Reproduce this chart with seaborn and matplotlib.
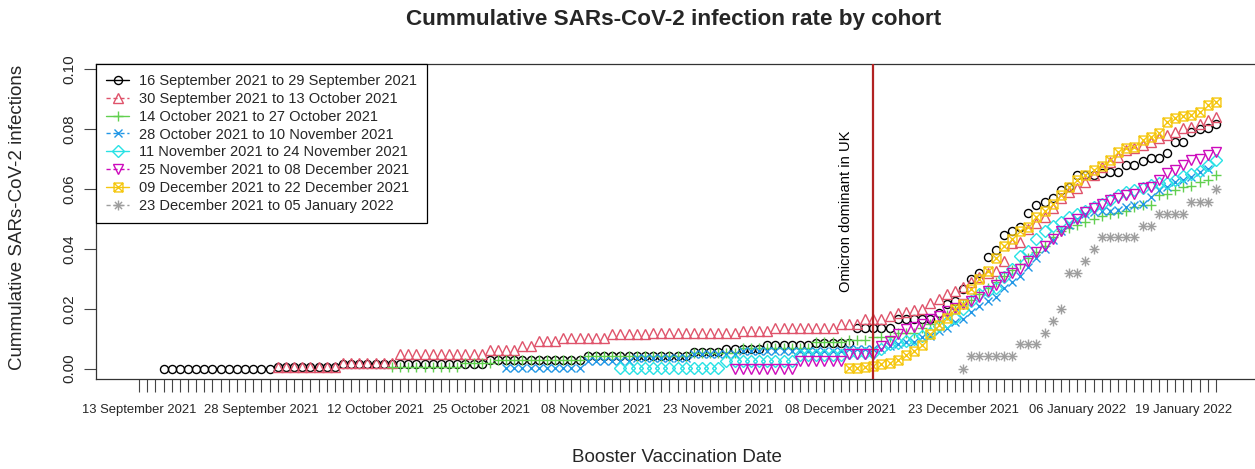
import matplotlib
matplotlib.use("Agg")
import numpy as np
import pandas as pd
import matplotlib.pyplot as plt
import matplotlib.dates as mdates
from matplotlib.path import Path
from matplotlib.lines import Line2D
import seaborn as sns

sns.set_theme(style="white")
plt.rcParams['font.family'] = ['Liberation Sans', 'DejaVu Sans']

# ---------------- data ----------------
cohort_labels = [
    "16 September 2021 to 29 September 2021",
    "30 September 2021 to 13 October 2021",
    "14 October 2021 to 27 October 2021",
    "28 October 2021 to 10 November 2021",
    "11 November 2021 to 24 November 2021",
    "25 November 2021 to 08 December 2021",
    "09 December 2021 to 22 December 2021",
    "23 December 2021 to 05 January 2022",
]
start_dates = ["2021-09-16", "2021-09-30", "2021-10-14", "2021-10-28",
               "2021-11-11", "2021-11-25", "2021-12-09", "2021-12-23"]

rate_c1 = [
    0.0, 0.0, 0.0, 0.0, 0.0, 0.0, 0.0, 0.0, 0.0, 0.0, 0.0, 0.0, 0.0, 0.0,
    0.0005, 0.0005, 0.0005, 0.0005, 0.0005, 0.0005, 0.0005, 0.0005,
    0.0015, 0.0015, 0.0015, 0.0015, 0.0015, 0.0015, 0.0015, 0.0015, 0.0015,
    0.0015, 0.0015, 0.0015, 0.0015, 0.0015, 0.0015, 0.0015, 0.0015, 0.0015,
    0.003, 0.003, 0.003, 0.003, 0.003, 0.003, 0.003, 0.003, 0.003, 0.003, 0.003, 0.003,
    0.0042, 0.0042, 0.0042, 0.0042, 0.0042, 0.0042, 0.0042, 0.0042, 0.0042, 0.0042,
    0.0042, 0.0042, 0.0042,
    0.0055, 0.0055, 0.0055, 0.0055,
    0.0065, 0.0065, 0.0065, 0.0065, 0.0065,
    0.0077, 0.0077, 0.0077, 0.0077, 0.0077, 0.0077,
    0.0085, 0.0085, 0.0085, 0.0085, 0.0085,
    0.0135, 0.0135, 0.0135, 0.0135, 0.0135,
    0.0165, 0.0165, 0.0165, 0.0165, 0.0165,
    0.0187, 0.0215, 0.0226, 0.0266, 0.030, 0.032, 0.0374, 0.0397, 0.0445, 0.0461,
    0.0473, 0.052, 0.0545, 0.0556, 0.0571, 0.0596, 0.0607, 0.0646, 0.0646, 0.0646,
    0.0652, 0.0657, 0.0657, 0.068, 0.068, 0.0693, 0.0705, 0.0705, 0.0719,
    0.0756, 0.0756, 0.0791, 0.080, 0.0803, 0.0817,
]
rate_c2 = [
    0.0005, 0.0005, 0.0005, 0.0005, 0.0005, 0.0005, 0.0005, 0.0005,
    0.002, 0.002, 0.002, 0.002, 0.002, 0.002, 0.002,
    0.005, 0.005, 0.005, 0.005, 0.005, 0.005, 0.005, 0.005, 0.005, 0.005, 0.005,
    0.0062, 0.0062, 0.0062, 0.0062,
    0.0075, 0.0075,
    0.0092, 0.0092, 0.0092,
    0.0103, 0.0103, 0.0103, 0.0103, 0.0103, 0.0103,
    0.0115, 0.0115, 0.0115, 0.0115, 0.0115,
    0.012, 0.012, 0.012, 0.012, 0.012, 0.012, 0.012, 0.012, 0.012, 0.012, 0.012,
    0.0126, 0.0126, 0.0126, 0.0126,
    0.0137, 0.0137, 0.0137, 0.0137, 0.0137, 0.0137, 0.0137, 0.0137,
    0.015, 0.015, 0.015,
    0.0165, 0.0165, 0.0165,
    0.0175, 0.0185, 0.019, 0.0195, 0.020, 0.022, 0.0232, 0.025, 0.026, 0.0271,
    0.029, 0.0305, 0.0321, 0.0327, 0.036, 0.042, 0.0422, 0.0468, 0.0485, 0.0506,
    0.0535, 0.0569, 0.059, 0.0605, 0.0624, 0.0646, 0.0674, 0.069, 0.0707,
    0.073, 0.0736, 0.0747, 0.0758, 0.0769, 0.078, 0.0791, 0.0803, 0.0808, 0.0819,
    0.083, 0.0842,
]
rate_c3 = [
    0.0005, 0.0005, 0.0005, 0.0005, 0.0005, 0.0005, 0.0005, 0.0005, 0.0005,
    0.002, 0.002, 0.002, 0.002,
    0.0028, 0.0028, 0.0028, 0.0028, 0.0028, 0.0028, 0.0028, 0.0028, 0.0028, 0.0028, 0.0028,
    0.0042, 0.0042, 0.0042, 0.0042, 0.0042, 0.0042, 0.0042, 0.0042, 0.0042, 0.0042,
    0.0042, 0.0042, 0.0042,
    0.0053, 0.0053, 0.0053, 0.0053, 0.0053, 0.0053,
    0.007, 0.007, 0.007, 0.007, 0.007, 0.007, 0.007, 0.007, 0.007,
    0.0088, 0.0088, 0.0088, 0.0088,
    0.0095, 0.0095, 0.0095,
    0.0105, 0.0105, 0.0105,
    0.012, 0.012, 0.012,
    0.0135, 0.015, 0.016, 0.018, 0.020, 0.0215, 0.023, 0.025, 0.027, 0.029,
    0.031, 0.033, 0.035, 0.037, 0.039, 0.041, 0.044, 0.046, 0.047, 0.048,
    0.049, 0.050, 0.051, 0.0515, 0.052, 0.0528, 0.054, 0.0545, 0.0545,
    0.058, 0.0585, 0.0596, 0.0607, 0.061, 0.0624, 0.0629, 0.0646,
]
rate_c4 = [
    0.0003, 0.0003, 0.0003, 0.0003, 0.0003, 0.0003, 0.0003, 0.0003, 0.0003, 0.0003,
    0.0025, 0.0025, 0.0025, 0.0025, 0.0025, 0.0025,
    0.0035, 0.0035, 0.0035, 0.0035, 0.0035, 0.0035, 0.0035,
    0.005, 0.005, 0.005, 0.005, 0.005, 0.005,
    0.006, 0.006, 0.006, 0.006, 0.006, 0.006, 0.006, 0.006, 0.006, 0.006, 0.006,
    0.006, 0.006,
    0.0065, 0.0065, 0.0065, 0.0065, 0.0065,
    0.0075, 0.0082, 0.0088, 0.009, 0.0105, 0.011, 0.0125, 0.0137, 0.0155, 0.0166,
    0.019, 0.021, 0.0225, 0.0238, 0.027, 0.029, 0.031, 0.034, 0.037, 0.040,
    0.043, 0.046, 0.048, 0.050, 0.0515, 0.0523, 0.0525, 0.0528, 0.053,
    0.054, 0.0545, 0.055, 0.0573, 0.0596, 0.0607, 0.0624, 0.0629, 0.064,
    0.0657, 0.0668,
]
rate_c5 = [
    0.0003, 0.0003, 0.0003, 0.0003, 0.0003, 0.0003, 0.0003, 0.0003, 0.0003, 0.0003,
    0.0003, 0.0003, 0.0003,
    0.0025, 0.0025, 0.0025, 0.0025, 0.0025, 0.0025, 0.0025, 0.0025, 0.0025,
    0.0045, 0.0045, 0.0045, 0.0045, 0.0045, 0.0045,
    0.0053, 0.0053, 0.0053, 0.0053,
    0.0065, 0.0081, 0.0085, 0.0092, 0.010, 0.011, 0.012, 0.0143, 0.0155, 0.017,
    0.020, 0.0226, 0.025, 0.026, 0.027, 0.0305, 0.0333, 0.0377, 0.0394, 0.0434,
    0.046, 0.0478, 0.049, 0.0505, 0.0518, 0.0528, 0.054, 0.055, 0.0565, 0.058,
    0.059, 0.0596, 0.0602, 0.0612, 0.0619, 0.062, 0.063, 0.0645, 0.065,
    0.066, 0.068, 0.0696,
]
rate_c6 = [
    0.0, 0.0, 0.0, 0.0, 0.0, 0.0, 0.0, 0.0,
    0.0025, 0.0025, 0.0025, 0.0025, 0.0025, 0.0025,
    0.005, 0.005, 0.005, 0.005,
    0.0075, 0.0092, 0.0115, 0.0131, 0.014, 0.0148, 0.0165, 0.0176, 0.0193, 0.0204,
    0.0216, 0.0226, 0.024, 0.026, 0.028, 0.0305, 0.032, 0.0333, 0.036, 0.0389,
    0.041, 0.0434, 0.046, 0.0485, 0.050, 0.0523, 0.0535, 0.055, 0.0562, 0.057,
    0.0579, 0.0585, 0.0602, 0.0607, 0.0629, 0.0652, 0.0663, 0.068, 0.0696,
    0.0702, 0.0713, 0.0724,
]
rate_c7 = [
    0.0003, 0.0003, 0.0005, 0.001, 0.0015, 0.002, 0.003, 0.0045, 0.006, 0.008,
    0.0115, 0.0145, 0.017, 0.020, 0.0216, 0.0266, 0.030, 0.0327, 0.037, 0.041,
    0.0434, 0.046, 0.0473, 0.0506, 0.0528, 0.055, 0.058, 0.0607, 0.0629, 0.0646,
    0.0663, 0.0676, 0.0696, 0.0724, 0.0736, 0.0741, 0.0763, 0.0775, 0.0786,
    0.0825, 0.0836, 0.0844, 0.0847, 0.0858, 0.0881, 0.0892,
]
rate_c8 = [
    0.0,
    0.0042, 0.0042, 0.0042, 0.0042, 0.0042, 0.0042,
    0.0081, 0.0081, 0.0081,
    0.012, 0.0159, 0.0199,
    0.0321, 0.0321,
    0.036, 0.040,
    0.0439, 0.0439, 0.0439, 0.0439, 0.0439,
    0.0478, 0.0478,
    0.0517, 0.0517, 0.0517, 0.0517,
    0.0556, 0.0556, 0.0556,
    0.0601,
]
series_values = [rate_c1, rate_c2, rate_c3, rate_c4, rate_c5, rate_c6, rate_c7, rate_c8]

xtick_label_dates = ["2021-09-13", "2021-09-28", "2021-10-12", "2021-10-25", "2021-11-08",
                     "2021-11-23", "2021-12-08", "2021-12-23", "2022-01-06", "2022-01-19"]
axis_first_day = "2021-09-13"
axis_last_day = "2022-01-23"
omicron_date = "2021-12-12"
ytick_values = [0.00, 0.02, 0.04, 0.06, 0.08, 0.10]

# ---------------- styles ----------------
colors = ["#000000", "#DF536B", "#61D04F", "#2297E6", "#28E2E5", "#CD0BBC", "#F5C710", "#9E9E9E"]

M, L = Path.MOVETO, Path.LINETO
square_x = Path([(-1, -1), (1, -1), (1, 1), (-1, 1), (-1, -1), (-1, -1), (1, 1), (-1, 1), (1, -1)],
                [M, L, L, L, L, M, L, M, L])
r = 0.72
asterisk = Path([(-1, 0), (1, 0), (0, -1), (0, 1), (-r, -r), (r, r), (-r, r), (r, -r)],
                [M, L, M, L, M, L, M, L])
markers = ["o", "^", "+", "x", "D", "v", square_x, asterisk]
msizes = [5.8, 6.8, 7.2, 6.0, 6.2, 6.8, 6.4, 7.2]
legend_ls = ["-", (0, (3, 2)), "-", (0, (3, 2)), "-", (0, (3, 2)), "-", (0, (3, 2))]

# ---------------- build long frame ----------------
frames = []
for lab, sd, vals in zip(cohort_labels, start_dates, series_values):
    d = pd.date_range(sd, periods=len(vals), freq="D")
    frames.append(pd.DataFrame({"date": d, "rate": vals, "cohort": lab}))
df = pd.concat(frames, ignore_index=True)

# ---------------- figure ----------------
W, H = 1255, 469
fig = plt.figure(figsize=(W / 100, H / 100), dpi=100)
ax = fig.add_axes([96 / W, (H - 379) / H, 1163 / W, 315 / H])

for i, lab in enumerate(cohort_labels):
    sub = df[df["cohort"] == lab]
    sns.lineplot(data=sub, x="date", y="rate", ax=ax, estimator=None, errorbar=None,
                 linestyle="", marker=markers[i], markersize=msizes[i],
                 markerfacecolor="none", markeredgecolor=colors[i],
                 markeredgewidth=1.0, color=colors[i], legend=False)

d0 = mdates.date2num(pd.Timestamp(axis_first_day))
d1 = mdates.date2num(pd.Timestamp(axis_last_day))
span = d1 - d0
ax.set_xlim(d0 - 0.04 * span, d1 + 0.04 * span)
ax.set_ylim(-0.0035, 0.1018)

# Omicron line
om = pd.Timestamp(omicron_date)
ax.axvline(om, color="#B22222", lw=1.6, zorder=5)
ax.text(mdates.date2num(om) - 3.35, 0.0525, "Omicron dominant in UK", rotation=90,
        ha="center", va="center", fontsize=10.6, color="black")

# ticks
all_days = pd.date_range(axis_first_day, axis_last_day, freq="D")
ax.set_xticks(mdates.date2num(all_days))
lab_set = set(pd.to_datetime(xtick_label_dates))
ax.set_xticklabels([d.strftime("%d %B %Y") if d in lab_set else "" for d in all_days],
                   fontsize=9.4)
ax.set_yticks(ytick_values)
ax.set_yticklabels([f"{v:.2f}" for v in ytick_values], fontsize=11, rotation=90, va="center")
ax.tick_params(axis="x", direction="out", length=9, width=0.8, color="#444444", pad=9,
               bottom=True)
ax.tick_params(axis="y", direction="out", length=9, width=0.8, color="#444444", pad=5,
               left=True)
for s in ax.spines.values():
    s.set_color("#333333")
    s.set_linewidth(0.9)
ax.set_xlabel("")
ax.set_ylabel("")
ax.grid(False)

# legend
handles = [Line2D([0], [0], color=colors[i], linestyle=legend_ls[i], lw=1.0,
                  marker=markers[i], markersize=msizes[i], markerfacecolor="none",
                  markeredgecolor=colors[i], markeredgewidth=1.0)
           for i in range(len(cohort_labels))]
leg = ax.legend(handles, cohort_labels, loc="upper left", bbox_to_anchor=(0, 1),
                borderaxespad=0, fontsize=10.5, frameon=True, fancybox=False,
                handlelength=1.6, handletextpad=0.7, labelspacing=0.265, borderpad=0.68)
leg.get_frame().set_edgecolor("black")
leg.get_frame().set_linewidth(0.9)
leg.get_frame().set_alpha(1)

# titles
fig.text(674 / W, 1 - 20 / H, "Cummulative SARs-CoV-2 infection rate by cohort",
         ha="center", va="center", fontsize=16.2, fontweight="bold")
fig.text(677 / W, 1 - 457 / H, "Booster Vaccination Date", ha="center", va="center", fontsize=13.5)
fig.text(18 / W, 1 - 217 / H, "Cummulative SARs-CoV-2 infections", ha="center", va="center",
         rotation=90, fontsize=13.5)

fig.savefig("out.png", dpi=100)
